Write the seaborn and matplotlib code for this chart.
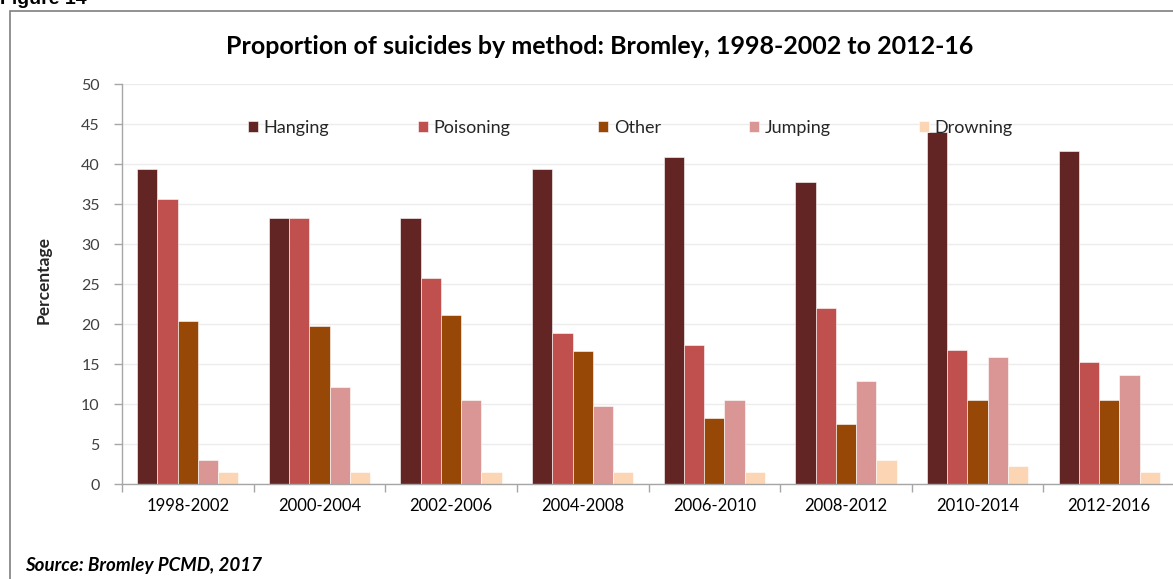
import matplotlib
matplotlib.use("Agg")
import matplotlib.pyplot as plt
from matplotlib.patches import Rectangle
from matplotlib.ticker import MultipleLocator, FixedLocator
import seaborn as sns
import pandas as pd

# Five-year periods
periods = ["1998-2002", "2000-2004", "2002-2006", "2004-2008",
           "2006-2010", "2008-2012", "2010-2014", "2012-2016"]

# Percentage of suicides by method in each period
hanging   = [39.4, 33.3, 33.3, 39.4, 40.9, 37.8, 44.0, 41.6]
poisoning = [35.6, 33.3, 25.8, 18.9, 17.4, 22.0, 16.7, 15.2]
other     = [20.4, 19.7, 21.1, 16.6, 8.3, 7.5, 10.5, 10.5]
jumping   = [3.0, 12.1, 10.5, 9.8, 10.5, 12.9, 15.9, 13.6]
drowning  = [1.5, 1.5, 1.5, 1.5, 1.5, 3.0, 2.3, 1.5]

methods = ["Hanging", "Poisoning", "Other", "Jumping", "Drowning"]
colors = ["#632523", "#C0504D", "#974706", "#D99694", "#FCD5B5"]

series = dict(zip(methods, [hanging, poisoning, other, jumping, drowning]))
df = pd.DataFrame([
    {"period": p, "method": m, "pct": v}
    for m in methods for p, v in zip(periods, series[m])
])

sns.set_theme(style="white")
plt.rcParams["font.family"] = ["Lato", "DejaVu Sans"]

fig = plt.figure(figsize=(11.73, 5.79), dpi=100)
fig.patch.set_facecolor("white")

# Outer frame around the chart
fig.patches.append(Rectangle((10 / 1173, -0.05), 1.2, 1 - 11 / 579 + 0.05,
                             transform=fig.transFigure, fill=False,
                             edgecolor="#7f7f7f", linewidth=1.2))

fig.text(0.0, 1.0 + 1 / 579, "Figure 14", ha="left", va="center",
         fontsize=14, fontweight="bold", family="Liberation Sans", color="black")

ax = fig.add_axes([122 / 1173, 1 - 484 / 579, (1175 - 122) / 1173, 400 / 579])

sns.barplot(data=df, x="period", y="pct", hue="method", order=periods,
            hue_order=methods, palette=colors, width=0.77, gap=0,
            saturation=1, edgecolor="white", linewidth=0.4, ax=ax)

ax.set_ylim(0, 50)
ax.set_xlim(-0.5, len(periods) - 0.5)
ax.yaxis.set_major_locator(MultipleLocator(5))
ax.grid(axis="y", color="#ececec", linewidth=1)
ax.set_axisbelow(True)

for side in ["top", "right"]:
    ax.spines[side].set_visible(False)
for side in ["left", "bottom"]:
    ax.spines[side].set_color("#a6a6a6")
    ax.spines[side].set_linewidth(1)

ax.tick_params(axis="y", which="major", left=True, length=6, width=1,
               color="#a6a6a6", labelsize=11.5, labelcolor="#404040", pad=10)
ax.tick_params(axis="x", which="major", length=0, labelsize=12,
               labelcolor="#000000", pad=10)
ax.xaxis.set_minor_locator(FixedLocator([i - 0.5 for i in range(len(periods) + 1)]))
ax.tick_params(axis="x", which="minor", bottom=True, length=6, width=1,
               color="#a6a6a6")

ax.set_xlabel("")
ax.set_ylabel("Percentage", fontsize=12.5, fontweight="bold", labelpad=17)
ax.yaxis.set_label_coords(-0.067, 0.51)

leg = ax.legend(loc="center left", bbox_to_anchor=(0.113, 0.89), ncol=5,
                frameon=False, fontsize=13, handlelength=0.55, handleheight=0.55,
                handletextpad=0.3, columnspacing=4.9, borderaxespad=0)
for t in leg.get_texts():
    t.set_color("#262626")

fig.text(600 / 1173, 1 - 46 / 579,
         "Proportion of suicides by method: Bromley, 1998-2002 to 2012-16",
         ha="center", va="center", fontsize=18, fontweight="bold", color="black")

fig.text(25 / 1173, 1 - 566 / 579, "Source: Bromley PCMD, 2017",
         ha="left", va="center", fontsize=13.5, fontweight="bold",
         style="italic", color="black")

fig.savefig("out.png", dpi=100)
